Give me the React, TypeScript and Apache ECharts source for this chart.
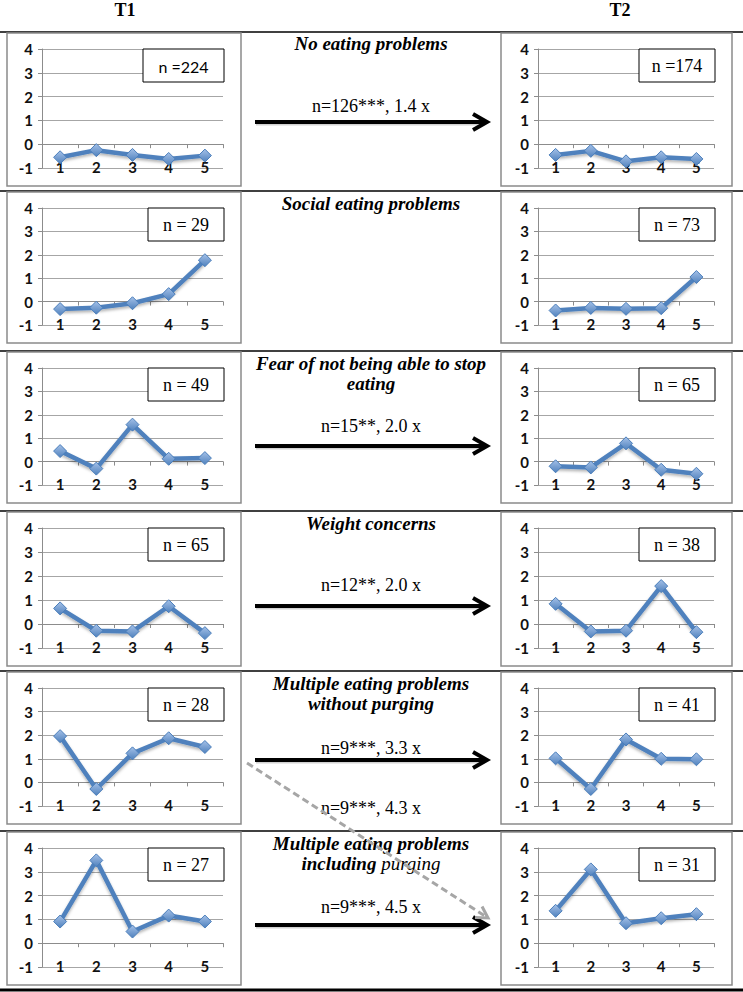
import React, { useEffect, useRef } from "react";
import * as echarts from "echarts";

// ---------- data ----------
const categories = ["1", "2", "3", "4", "5"];
const yMin = -1;
const yMax = 4;
const yInterval = 1;

const columnTitles = ["T1", "T2"];

const groupTitles = [
  ["No eating problems"],
  ["Social eating problems"],
  ["Fear of not being able to stop", "eating"],
  ["Weight concerns"],
  ["Multiple eating problems", "without purging"],
  ["Multiple eating problems", "{b|including} {i|purging}"],
];

const t1Counts = ["n =224", "n = 29", "n = 49", "n = 65", "n = 28", "n = 27"];
const t2Counts = ["n =174", "n = 73", "n = 65", "n = 38", "n = 41", "n = 31"];

const transitions = ["n=126***, 1.4 x", "", "n=15**, 2.0 x", "n=12**, 2.0 x", "n=9***, 3.3 x", "n=9***, 4.5 x"];
const crossTransition = "n=9***, 4.3 x";

const t1NoProblems = [-0.55, -0.25, -0.45, -0.62, -0.48];
const t1Social = [-0.32, -0.26, -0.07, 0.32, 1.77];
const t1Fear = [0.45, -0.3, 1.58, 0.12, 0.15];
const t1Weight = [0.65, -0.28, -0.31, 0.74, -0.38];
const t1MultiNoPurge = [1.96, -0.28, 1.23, 1.87, 1.5];
const t1MultiPurge = [0.91, 3.48, 0.49, 1.16, 0.91];

const t2NoProblems = [-0.45, -0.28, -0.72, -0.55, -0.62];
const t2Social = [-0.38, -0.27, -0.31, -0.28, 1.05];
const t2Fear = [-0.2, -0.25, 0.78, -0.35, -0.52];
const t2Weight = [0.84, -0.31, -0.28, 1.58, -0.34];
const t2MultiNoPurge = [1.02, -0.28, 1.82, 1.0, 0.98];
const t2MultiPurge = [1.36, 3.1, 0.84, 1.05, 1.22];

const t1Series = [t1NoProblems, t1Social, t1Fear, t1Weight, t1MultiNoPurge, t1MultiPurge];
const t2Series = [t2NoProblems, t2Social, t2Fear, t2Weight, t2MultiNoPurge, t2MultiPurge];

// ---------- layout ----------
const W = 743;
const H = 992;
const rowLines = [32, 191, 351, 511, 671, 831];
const frameTop = [33, 192, 352, 512, 672, 832];
const frameBottom = [186, 343, 503, 666, 824, 985];
const leftFrame = { x: 7, w: 234, gridL: 42, gridR: 223 };
const rightFrame = { x: 501, w: 231, gridL: 538, gridR: 714 };
const midX = 371;
const titleY = [43, 203, 363, 523, 683, 843];
const labelY = [106, 0, 426, 585, 748, 907];
const arrowY = [122, 0, 446, 606, 760, 925];
const arrowX0 = 255;
const arrowX1 = 487;

const SERIF = "'Liberation Serif', 'DejaVu Serif', serif";
const SANS = "Lato, 'Liberation Sans', sans-serif";

export default function App() {
  const ref = useRef<HTMLDivElement>(null);

  useEffect(() => {
    if (!ref.current) return;
    const chart = echarts.init(ref.current, undefined, { renderer: "svg" });

    const grids: any[] = [];
    const xAxes: any[] = [];
    const yAxes: any[] = [];
    const series: any[] = [];
    const graphics: any[] = [];

    const lineColor = "#4f81bd";
    const axisGray = "#8c8c8c";

    const addPanel = (frame: any, row: number, data: number[], countText: string, countFont: string, countW: number) => {
      const idx = grids.length;
      const top = frameTop[row] + 16;
      const bottom = frameBottom[row] - 18;
      const h = bottom - top;
      grids.push({ left: frame.gridL, top, width: frame.gridR - frame.gridL, height: h });
      const xLabelAxis = xAxes.length;
      // axis carrying the category labels (sits on the -1 line)
      xAxes.push({
        type: "category",
        gridIndex: idx,
        position: "bottom",
        data: categories,
        boundaryGap: true,
        axisLine: { show: false, onZero: false },
        axisTick: { show: false },
        axisLabel: { margin: -9, fontFamily: SANS, fontSize: 15, fontWeight: "bold", color: "#111" },
        splitLine: { show: false },
      });
      // axis line with ticks at value 0
      xAxes.push({
        type: "category",
        gridIndex: idx,
        position: "bottom",
        offset: -h / (yMax - yMin),
        data: categories,
        boundaryGap: true,
        axisLine: { show: true, onZero: false, lineStyle: { color: axisGray, width: 1 } },
        axisTick: { show: true, length: 4, lineStyle: { color: axisGray } },
        axisLabel: { show: false },
        splitLine: { show: false },
      });
      yAxes.push({
        type: "value",
        gridIndex: idx,
        min: yMin,
        max: yMax,
        interval: yInterval,
        axisLine: { show: true, lineStyle: { color: axisGray, width: 1 } },
        axisTick: { show: true, length: 4, lineStyle: { color: axisGray } },
        axisLabel: { margin: 9, fontFamily: SANS, fontSize: 15, fontWeight: "bold", color: "#111" },
        splitLine: { show: true, lineStyle: { color: "#a6a6a6", width: 1 } },
      });
      series.push({
        type: "line",
        xAxisIndex: xLabelAxis,
        yAxisIndex: idx,
        data,
        symbol: "diamond",
        symbolSize: 13,
        lineStyle: { color: lineColor, width: 4.5, shadowBlur: 3, shadowColor: "rgba(0,0,0,0.3)", shadowOffsetY: 2 },
        itemStyle: {
          color: new echarts.graphic.LinearGradient(0, 0, 0, 1, [
            { offset: 0, color: "#a5c1e8" },
            { offset: 1, color: "#4f81bd" },
          ]),
          borderColor: "#4a7ebb",
          borderWidth: 1,
        },
        z: 3,
      });
      // frame
      graphics.push({
        type: "rect",
        shape: { x: frame.x, y: frameTop[row], width: frame.w, height: frameBottom[row] - frameTop[row] },
        style: { fill: "none", stroke: "#8a8a8a", lineWidth: 1.5 },
        z: 1,
      });
      // count box
      const bx = frame.gridR + 1 - countW;
      graphics.push({
        type: "rect",
        shape: { x: bx, y: top, width: countW, height: 33 },
        style: { fill: "#fff", stroke: "#000", lineWidth: 1 },
        z: 100,
      });
      graphics.push({
        type: "text",
        x: bx + countW / 2,
        y: top + 17,
        style: {
          text: countText,
          font: countFont,
          fill: "#000",
          align: "center",
          verticalAlign: "middle",
          textAlign: "center",
          textVerticalAlign: "middle",
        },
        z: 101,
      });
    };

    for (let r = 0; r < 6; r++) {
      addPanel(leftFrame, r, t1Series[r], t1Counts[r], r === 0 ? `16px ${SANS}` : `18px ${SERIF}`, r === 0 ? 81 : 76);
      addPanel(rightFrame, r, t2Series[r], t2Counts[r], `18px ${SERIF}`, 76);
    }

    // row lines
    rowLines.forEach((y) => {
      graphics.push({
        type: "rect",
        shape: { x: 0, y: y - 0.75, width: W, height: 1.5 },
        style: { fill: "#000" },
        z: 0,
      });
    });
    graphics.push({
      type: "rect",
      shape: { x: 0, y: 988.5, width: W, height: 3 },
      style: { fill: "#000" },
      z: 0,
    });

    // column titles
    [125, 620].forEach((x, i) => {
      graphics.push({
        type: "text",
        x,
        y: 10,
        style: { text: columnTitles[i], font: `bold 18px ${SERIF}`, fill: "#000", align: "center", verticalAlign: "middle", textAlign: "center", textVerticalAlign: "middle" },
      });
    });

    // middle titles
    groupTitles.forEach((lines, r) => {
      lines.forEach((t, k) => {
        graphics.push({
          type: "text",
          x: midX,
          y: titleY[r] + k * 20,
          style: {
            text: t,
            font: `italic bold 19px ${SERIF}`,
            fill: "#000",
            align: "center",
            verticalAlign: "middle",
            textAlign: "center",
            textVerticalAlign: "middle",
            rich: {
              b: { fontFamily: SERIF, fontSize: 19, fontStyle: "italic", fontWeight: "bold", fill: "#000", color: "#000" },
              i: { fontFamily: SERIF, fontSize: 19, fontStyle: "italic", fontWeight: "normal", fill: "#000", color: "#000" },
            },
          },
          z: 5,
        });
      });
    });

    const addArrow = (y: number) => {
      // soft shadow
      graphics.push({
        type: "rect",
        shape: { x: arrowX0 + 1, y: y - 0.5, width: arrowX1 - arrowX0 - 4, height: 4 },
        style: { fill: "rgba(0,0,0,0.18)" },
        z: 4,
      });
      graphics.push({
        type: "rect",
        shape: { x: arrowX0, y: y - 2, width: arrowX1 - arrowX0 - 3, height: 4 },
        style: { fill: "#000" },
        z: 5,
      });
      graphics.push({
        type: "polyline",
        shape: { points: [[arrowX1 - 14, y - 8], [arrowX1, y], [arrowX1 - 14, y + 8]] },
        style: { stroke: "#000", fill: "none", lineWidth: 4, lineJoin: "miter" },
        z: 5,
      });
    };

    transitions.forEach((t, r) => {
      if (!t) return;
      graphics.push({
        type: "text",
        x: midX,
        y: labelY[r],
        style: { text: t, font: `18px ${SERIF}`, fill: "#000", align: "center", verticalAlign: "middle", textAlign: "center", textVerticalAlign: "middle" },
        z: 5,
      });
      addArrow(arrowY[r]);
    });

    // dashed cross arrow
    const sx = 247, sy = 763, ex = 488, ey = 918;
    const len = Math.hypot(ex - sx, ey - sy);
    const ux = (ex - sx) / len, uy = (ey - sy) / len;
    const hl = 13, ang = Math.PI / 6;
    const rot = (a: number) => [
      ex - hl * (ux * Math.cos(a) - uy * Math.sin(a)),
      ey - hl * (ux * Math.sin(a) + uy * Math.cos(a)),
    ];
    graphics.push({
      type: "line",
      shape: { x1: sx, y1: sy, x2: ex - ux * 2, y2: ey - uy * 2 },
      style: { stroke: "#a6a6a6", lineWidth: 3, lineDash: [7, 4] },
      z: 6,
    });
    graphics.push({
      type: "polyline",
      shape: { points: [rot(ang), [ex, ey], rot(-ang)] },
      style: { stroke: "#a6a6a6", fill: "none", lineWidth: 3 },
      z: 6,
    });
    graphics.push({
      type: "text",
      x: midX,
      y: 808,
      style: { text: crossTransition, font: `18px ${SERIF}`, fill: "#000", align: "center", verticalAlign: "middle", textAlign: "center", textVerticalAlign: "middle" },
      z: 5,
    });

    chart.setOption({
      animation: false,
      backgroundColor: "#fff",
      grid: grids,
      xAxis: xAxes,
      yAxis: yAxes,
      series,
      graphic: { elements: graphics },
    });

    return () => chart.dispose();
  }, []);

  return <div ref={ref} style={{ position: "absolute", left: 0, top: 0, width: W, height: H }} />;
}
